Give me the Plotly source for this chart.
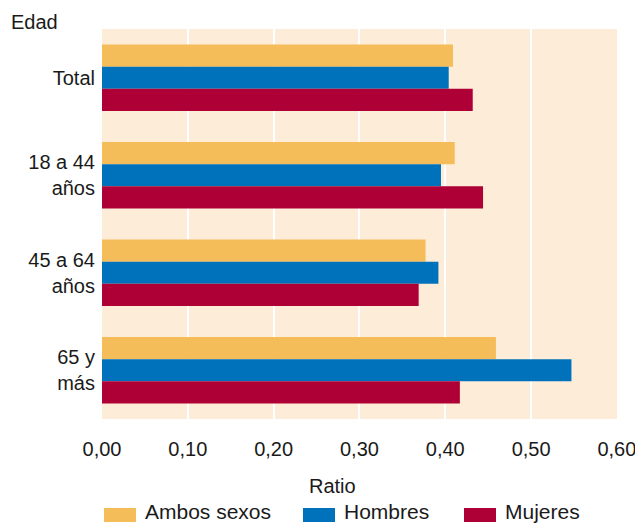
import plotly.graph_objects as go

categories = ["Total", "18 a 44<br>años", "45 a 64<br>años", "65 y<br>más"]
ambos = [0.409, 0.411, 0.377, 0.459]
hombres = [0.404, 0.395, 0.392, 0.547]
mujeres = [0.432, 0.444, 0.369, 0.417]
series_names = ["Ambos sexos", "Hombres", "Mujeres"]
colors = ["#f5bc5a", "#0072bb", "#ae0037"]
tick_vals = [0, 0.1, 0.2, 0.3, 0.4, 0.5, 0.6]

FONT = "Liberation Sans, Arial"
W, H = 635, 524
L, R, T, B = 102, 18, 29, 105
PW, PH = W - L - R, H - T - B


def px_x(px):
    return (px - L) / PW


def px_y(py):
    return (H - B - py) / PH


fig = go.Figure()
for name, vals, col in zip(series_names, [ambos, hombres, mujeres], colors):
    fig.add_trace(go.Bar(y=categories, x=vals, name=name, orientation="h",
                         marker=dict(color=col, line=dict(width=0))))

# custom legend with wide rectangular swatches
legend_pos = [(104, 143), (303, 342), (464, 503)]
shapes = []
annotations = []
for (sx, tx), name, col in zip(legend_pos, series_names, colors):
    shapes.append(dict(type="rect", xref="paper", yref="paper",
                       x0=px_x(sx), x1=px_x(sx + 32), y0=px_y(522), y1=px_y(508),
                       fillcolor=col, line=dict(width=0)))
    annotations.append(dict(text=name, xref="paper", yref="paper",
                            x=px_x(tx), y=px_y(511), xanchor="left", yanchor="middle",
                            showarrow=False, font=dict(size=21)))

annotations.append(dict(text="Edad", xref="paper", yref="paper", x=px_x(9), y=px_y(22),
                        xanchor="left", yanchor="middle", showarrow=False,
                        font=dict(size=20)))
annotations.append(dict(text="Ratio", xref="paper", yref="paper", x=px_x(332), y=px_y(486),
                        xanchor="center", yanchor="middle", showarrow=False,
                        font=dict(size=20)))

fig.update_layout(
    width=W, height=H,
    margin=dict(l=L, r=R, t=T, b=B),
    barmode="group", bargap=0.32, bargroupgap=0,
    plot_bgcolor="#fdecd8", paper_bgcolor="white",
    separators=",.",
    font=dict(family=FONT, size=20, color="#1a1a1a"),
    showlegend=False,
    shapes=shapes,
    annotations=annotations,
)
fig.update_xaxes(range=[0, 0.6001], tickvals=tick_vals, tickformat=".2f",
                 showgrid=True, gridcolor="white", gridwidth=2, zeroline=False,
                 ticks="outside", ticklen=12, tickcolor="rgba(0,0,0,0)",
                 ticklabeloverflow="allow",
                 automargin=False, fixedrange=True)
fig.update_yaxes(autorange="reversed", showgrid=False, ticks="outside", ticklen=2,
                 tickcolor="rgba(0,0,0,0)", automargin=False, fixedrange=True)

fig.write_html("out.html", config={"displayModeBar": False},
               post_script="document.body.style.margin='0';document.body.style.overflow='hidden';")
